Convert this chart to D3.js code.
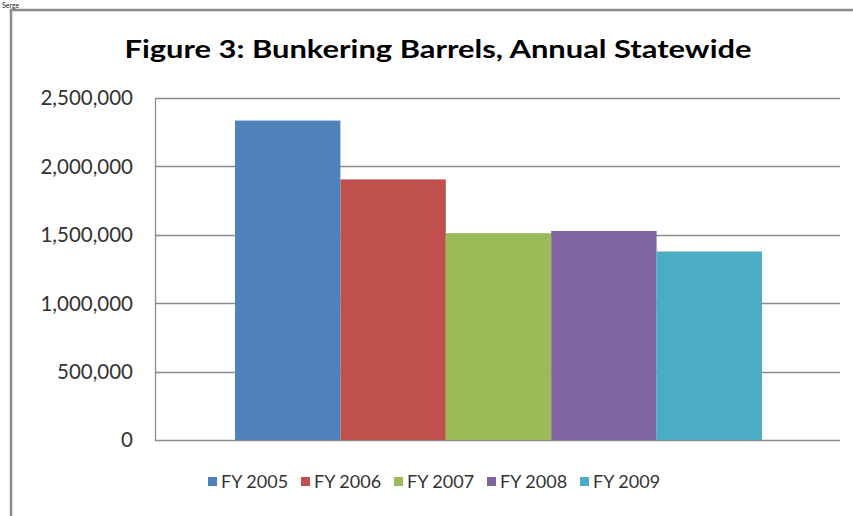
<!DOCTYPE html>
<meta charset="utf-8">
<head>
  <style>
    body { margin: 0; background: #fff; }
    text { font-family: Lato, "Open Sans", sans-serif; fill: #222; }
  </style>
  <script src="https://cdn.jsdelivr.net/npm/d3@7"></script>
</head>
<body>
<script>
  // data
  const years = ["FY 2005", "FY 2006", "FY 2007", "FY 2008", "FY 2009"];
  const barrels = [2335000, 1905000, 1512000, 1528000, 1378000];
  const colors = ["#4f81bd", "#c0504d", "#9bbb59", "#8064a2", "#4bacc6"];
  const yTicks = [0, 500000, 1000000, 1500000, 2000000, 2500000];
  const title = "Figure 3: Bunkering Barrels, Annual Statewide";

  const W = 853, H = 516;
  const plot = {left: 155, right: 840, top: 98, bottom: 440};

  const svg = d3.select("body").append("svg")
    .attr("width", W)
    .attr("height", H);

  // outer frame of the chart (runs off the right / bottom edge)
  svg.append("rect")
    .attr("x", 11).attr("y", 10)
    .attr("width", W + 20).attr("height", H + 20)
    .attr("fill", "white")
    .attr("stroke", "#8c8c8c")
    .attr("stroke-width", 2.5);

  // bit of page text above the frame
  svg.append("text")
    .attr("x", 2).attr("y", 8)
    .style("font-size", "7px")
    .text("Serge");

  svg.append("text")
    .attr("x", 438).attr("y", 58)
    .attr("text-anchor", "middle")
    .attr("textLength", 627)
    .attr("lengthAdjust", "spacingAndGlyphs")
    .style("font-size", "25px")
    .style("font-weight", "bold")
    .style("fill", "#000")
    .text(title);

  const y = d3.scaleLinear()
    .domain([0, 2500000])
    .range([plot.bottom, plot.top]);

  const x = d3.scaleBand()
    .domain(years)
    .range([235, 762])
    .padding(0);

  // gridlines
  svg.append("g")
    .selectAll("line").data(yTicks).join("line")
    .attr("x1", plot.left).attr("x2", plot.right)
    .attr("y1", d => Math.round(y(d)) + 0.5)
    .attr("y2", d => Math.round(y(d)) + 0.5)
    .attr("stroke", "#8c8c8c")
    .attr("stroke-width", 1.3);

  svg.append("line")
    .attr("x1", plot.left + 0.5).attr("x2", plot.left + 0.5)
    .attr("y1", plot.top).attr("y2", plot.bottom + 1)
    .attr("stroke", "#8c8c8c")
    .attr("stroke-width", 1.3);

  // y labels
  svg.append("g")
    .selectAll("text").data(yTicks).join("text")
    .attr("x", 133)
    .attr("y", d => y(d))
    .attr("dy", "0.36em")
    .attr("text-anchor", "end")
    .style("font-size", "20.5px")
    .style("fill", "#333")
    .text(d => d3.format(",")(d));

  // bars
  svg.append("g")
    .selectAll("rect").data(barrels).join("rect")
    .attr("x", (d, i) => x(years[i]))
    .attr("width", x.bandwidth())
    .attr("y", d => y(d))
    .attr("height", d => y(0) - y(d))
    .attr("fill", (d, i) => colors[i]);

  // legend
  const leg = svg.append("g")
    .selectAll("g").data(years).join("g")
    .attr("transform", (d, i) => "translate(" + (208 + i * 93) + ",477)");
  leg.append("rect")
    .attr("width", 9).attr("height", 9)
    .attr("fill", (d, i) => colors[i]);
  leg.append("text")
    .attr("x", 13).attr("y", 4.5)
    .attr("dy", "0.36em")
    .style("font-size", "18px")
    .style("fill", "#333")
    .text(d => d);
</script>
</body>
</html>
